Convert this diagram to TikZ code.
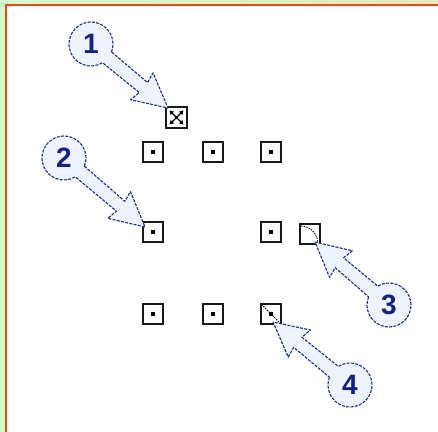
\documentclass[tikz,border=0pt]{standalone}
\usepackage{fontspec}
\setsansfont{Liberation Sans}
\usetikzlibrary{calc,arrows.meta}
\definecolor{bgreen}{RGB}{204,255,204}
\definecolor{bgyel}{RGB}{226,236,190}
\definecolor{frame}{RGB}{255,64,16}
\definecolor{navy}{RGB}{16,36,136}
\definecolor{balline}{RGB}{25,45,140}
\definecolor{ballfill}{RGB}{238,243,255}
\tikzset{
  handle/.style={draw=black!90, line width=1.7pt, minimum size=20.5pt, inner sep=0pt, fill=white},
  dotted handle/.style={handle, path picture={\fill[black] (path picture bounding box.center) +(-1.6pt,-1.6pt) rectangle +(1.6pt,1.6pt);}},
  balloon/.style={draw=balline, fill=ballfill, line width=1.1pt, dash pattern=on 3pt off 1.3pt, line join=round},
  num/.style={text=navy, font=\sffamily\bfseries\fontsize{28}{28}\selectfont, inner sep=0pt},
  icon/.style={black, line width=0.8pt},
  move arrow/.style={black, line width=1.2pt, -{Triangle[length=4pt,width=4.5pt]}}
}
\newcommand\balloon[2]{%
  \path let \p1=($(#2)-(#1)$), \n1={atan2(\y1,\x1)}, \n2={veclen(\x1,\y1)} in
    \pgfextra{\xdef\bang{\n1}\xdef\blen{\n2}};
  \begin{scope}[shift={(#1)}, rotate=\bang]
    \draw[balloon] (18.55:22pt) arc[start angle=18.55, end angle=341.45, radius=22pt]
      -- ({\blen-32pt},-6.5pt) -- ({\blen-34pt},-17.5pt) -- ({\blen},0pt)
      -- ({\blen-34pt},17.5pt) -- ({\blen-32pt},6.5pt) -- cycle;
  \end{scope}
}
\begin{document}
\begin{tikzpicture}[x=1pt,y=1pt]
\useasboundingbox (0,0) rectangle (438,-431);
% background and frame
\fill[bgreen] (0,0) rectangle (440,-433);
\shade[left color=bgreen, right color=bgyel] (0,0) rectangle (440,-5);
\fill[white] (6,-5) rectangle (440,-433);
\draw[frame, line width=2.4pt] (6.2,-433) -- (6.2,-5.2) -- (440,-5.2);
% handles
\node[handle] (mv) at (176.5,-117.5) {};
\draw[move arrow] (mv.center) -- ++(-7pt,7pt);
\draw[move arrow] (mv.center) -- ++(7pt,7pt);
\draw[move arrow] (mv.center) -- ++(-7pt,-7pt);
\draw[move arrow] (mv.center) -- ++(7pt,-7pt);
\fill (mv.center) +(-1.8pt,-1.8pt) rectangle +(1.8pt,1.8pt);
\node[dotted handle] (tl) at (153,-152) {};
\node[dotted handle] (tm) at (213,-152) {};
\node[dotted handle] (tr) at (271,-152) {};
\node[dotted handle] (ml) at (153,-232) {};
\node[dotted handle] (mr) at (271,-232) {};
\node[handle] (rot) at (310,-234) {};
\draw[icon, dash pattern=on 1.6pt off 1pt] ($(rot.center)+(-9pt,8pt)$) arc[start angle=90, end angle=0, radius=16.5pt];
\node[dotted handle] (bl) at (153,-314) {};
\node[dotted handle] (bm) at (213,-314) {};
\node[dotted handle] (br) at (271,-314) {};
\draw[icon, dash pattern=on 1.6pt off 1pt] ($(br.north west)+(1.5pt,-1.5pt)$) -- ($(br.south east)+(-1.5pt,1.5pt)$);
% callouts
\coordinate (p1) at (91,-44);
\coordinate (p2) at (64,-158);
\coordinate (p3) at (389,-305);
\coordinate (p4) at (350,-385);
\coordinate (t1) at (168,-108);
\coordinate (t2) at (145,-227);
\coordinate (t3) at (315,-242);
\coordinate (t4) at (273,-322);
\balloon{p1}{t1}
\balloon{p2}{t2}
\balloon{p3}{t3}
\balloon{p4}{t4}
\node[num] (c1) at (p1) {1};
\node[num] (c2) at (p2) {2};
\node[num] (c3) at (p3) {3};
\node[num] (c4) at (p4) {4};
\end{tikzpicture}
\end{document}
